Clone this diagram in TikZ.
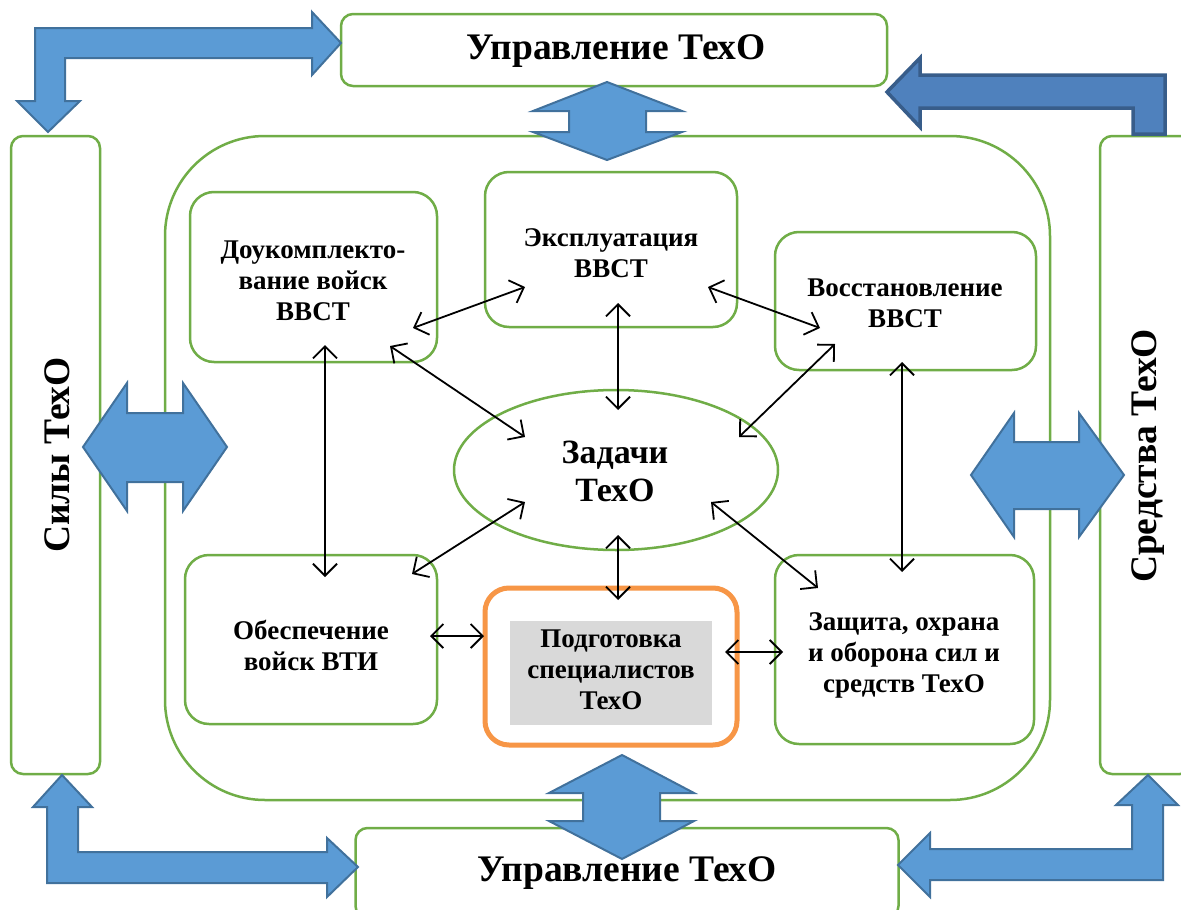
\documentclass[tikz,border=0pt]{standalone}
\usepackage{fontspec}
\setmainfont{Liberation Serif}
\usetikzlibrary{arrows.meta,shapes.geometric}
\definecolor{grn}{HTML}{70AD47}
\definecolor{org}{HTML}{F79646}
\definecolor{bfill}{HTML}{5B9BD5}
\definecolor{bline}{HTML}{41719C}
\definecolor{dfill}{HTML}{4F81BD}
\definecolor{dline}{HTML}{385D8A}
\definecolor{gry}{HTML}{D9D9D9}
\tikzset{
  gbox/.style={draw=grn,line width=2.5pt,fill=white,rounded corners=24pt,inner sep=0pt},
  itxt/.style={align=center,inner sep=0pt,font=\fontsize{27}{31}\selectfont\bfseries},
  bigtxt/.style={inner sep=0pt,font=\fontsize{37.5}{42}\selectfont\bfseries},
  barrow/.style={fill=bfill,draw=bline,line width=2pt,line join=miter},
  darrow/.style={fill=dfill,draw=dline,line width=3.5pt,line join=miter},
  tarrow/.style={line width=1.8pt,{Straight Barb[length=12pt,width=24pt,line width=1.8pt]}-{Straight Barb[length=12pt,width=24pt,line width=1.8pt]}}
}
\begin{document}
\begin{tikzpicture}[x=1pt,y=-1pt]
\useasboundingbox (0,0) rectangle (1181,910);
% outer boxes
\node[gbox,rounded corners=12pt,minimum width=546pt,minimum height=72pt] (upr1) at (614,50) {};
\node[bigtxt] (upr1t) at (616,51) {Управление ТехО};
\node[gbox,rounded corners=12pt,minimum width=543pt,minimum height=90pt] (upr2) at (627,873) {};
\node[bigtxt] (upr2t) at (627,873) {Управление ТехО};
\node[gbox,rounded corners=12pt,minimum width=89pt,minimum height=638pt] (sily) at (55.5,455) {};
\node[bigtxt,rotate=90] (silyt) at (57,455) {Силы ТехО};
\node[gbox,rounded corners=12pt,minimum width=92pt,minimum height=638pt] (sredst) at (1146,455) {};
\node[bigtxt,rotate=90] (sredstt) at (1148,456) {Средства ТехО};
% container
\node[gbox,rounded corners=100pt,minimum width=885pt,minimum height=664pt] (cont) at (607.5,468) {};
% inner boxes
\node[gbox,minimum width=247pt,minimum height=170pt] (douk) at (313.5,277) {};
\node[itxt] (doukt) at (313,281) {Доукомплекто-\\вание войск\\ВВСТ};
\node[gbox,minimum width=252pt,minimum height=155pt] (expl) at (611,249.5) {};
\node[itxt] (explt) at (611,253) {Эксплуатация\\ВВСТ};
\node[gbox,minimum width=261pt,minimum height=138pt] (vosst) at (905.5,301) {};
\node[itxt] (vosstt) at (905,303) {Восстановление\\ВВСТ};
\node[draw=grn,line width=2.5pt,ellipse,minimum width=324pt,minimum height=160pt] (zad) at (616,470) {};
\node[align=center,inner sep=0pt,font=\fontsize{34}{38}\selectfont\bfseries] (zadt) at (615,471) {Задачи\\ТехО};
\node[gbox,minimum width=252pt,minimum height=169pt] (obesp) at (311,639.5) {};
\node[itxt] (obespt) at (311,645) {Обеспечение\\войск ВТИ};
\node[gbox,draw=org,line width=5pt,minimum width=252pt,minimum height=157pt] (podg) at (611,666.5) {};
\node[fill=gry,minimum width=202pt,minimum height=104pt,inner sep=0pt] (podgbg) at (611,673) {};
\node[itxt] (podgt) at (611,670) {Подготовка\\специалистов\\ТехО};
\node[gbox,minimum width=259pt,minimum height=189pt] (zash) at (904.5,649.5) {};
\node[itxt] (zasht) at (904,655) {Защита, охрана\\и оборона сил и\\средств ТехО};
% thin arrow end points
\coordinate (d1) at (413,328); \coordinate (e1) at (525,287);
\coordinate (e2) at (708,287); \coordinate (v1) at (820,328);
\coordinate (e3) at (618,303); \coordinate (z1) at (618,410);
\coordinate (d2) at (390,346); \coordinate (z2) at (525,437);
\coordinate (v2) at (835,344); \coordinate (z3) at (739,437);
\coordinate (d3) at (325,345); \coordinate (o1) at (325,577);
\coordinate (v3) at (902,362); \coordinate (s1) at (902,572);
\coordinate (z4) at (525,502); \coordinate (o2) at (412,574);
\coordinate (z5) at (711,502); \coordinate (s2) at (818,588);
\coordinate (z6) at (618,535); \coordinate (p1) at (618,600);
\coordinate (o3) at (430,636); \coordinate (p2) at (484,636);
\coordinate (p3) at (725,652); \coordinate (s3) at (783,652);
\draw[tarrow] (d1) -- (e1);
\draw[tarrow] (e2) -- (v1);
\draw[tarrow] (e3) -- (z1);
\draw[tarrow] (d2) -- (z2);
\draw[tarrow] (v2) -- (z3);
\draw[tarrow] (d3) -- (o1);
\draw[tarrow] (v3) -- (s1);
\draw[tarrow] (z4) -- (o2);
\draw[tarrow] (z5) -- (s2);
\draw[tarrow] (z6) -- (p1);
\draw[tarrow] (o3) -- (p2);
\draw[tarrow] (p3) -- (s3);
% big block arrows
\draw[barrow] (35,28) -- (312,28) -- (312,12) -- (341,43) -- (312,75) -- (312,58) -- (65,58) -- (65,101) -- (80,101) -- (48,132) -- (17,101) -- (35,101) -- cycle;
\draw[darrow] (1165,134) -- (1165,75) -- (920,75) -- (920,58) -- (887,92) -- (920,127) -- (920,108) -- (1133,108) -- (1133,134) -- cycle;
\draw[barrow] (62,775) -- (92,807) -- (78,807) -- (78,852) -- (327,852) -- (327,838) -- (358,867) -- (327,897) -- (327,883) -- (47,883) -- (47,807) -- (33,807) -- cycle;
\draw[barrow] (898,865) -- (930,833) -- (930,849) -- (1132,849) -- (1132,805) -- (1116,805) -- (1148,775) -- (1178,805) -- (1163,805) -- (1163,880) -- (930,880) -- (930,897) -- cycle;
\draw[barrow] (607,82) -- (682,111) -- (646,111) -- (646,132) -- (682,132) -- (607,160) -- (533,132) -- (569,132) -- (569,111) -- (533,111) -- cycle;
\draw[barrow] (622,755) -- (694,793) -- (660,793) -- (660,821) -- (694,821) -- (622,859) -- (549,821) -- (583,821) -- (583,793) -- (549,793) -- cycle;
\draw[barrow] (83,447) -- (127,383) -- (127,413) -- (183,413) -- (183,383) -- (227,447) -- (183,511) -- (183,482) -- (127,482) -- (127,511) -- cycle;
\draw[barrow] (971,475) -- (1014,413) -- (1014,442) -- (1079,442) -- (1079,413) -- (1124,475) -- (1079,537) -- (1079,509) -- (1014,509) -- (1014,537) -- cycle;
\end{tikzpicture}
\end{document}
